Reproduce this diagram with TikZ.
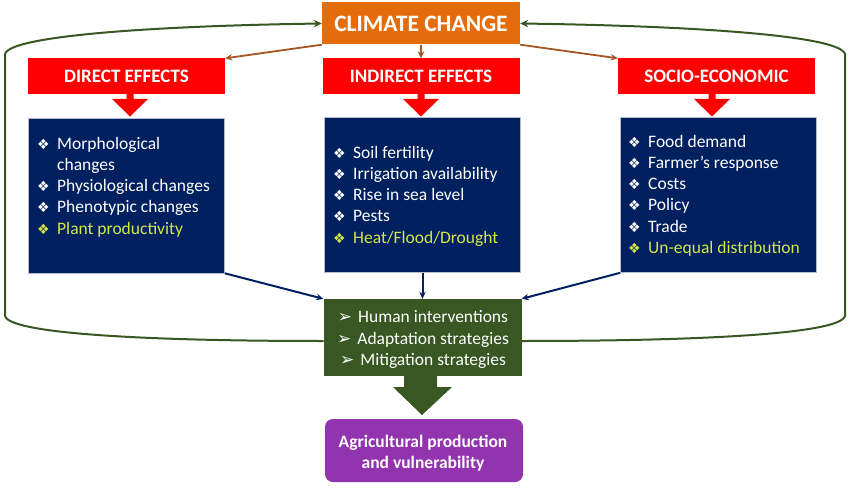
\documentclass[tikz,border=0pt]{standalone}
\usepackage{fontspec}
\setmainfont{Carlito}
\newfontfamily\symf{DejaVu Sans}
\usetikzlibrary{arrows.meta}
\definecolor{orangeC}{RGB}{228,108,10}
\definecolor{redC}{RGB}{255,0,0}
\definecolor{navyC}{RGB}{0,32,96}
\definecolor{greenC}{RGB}{56,87,35}
\definecolor{purpleC}{RGB}{146,52,174}
\definecolor{yellowC}{RGB}{214,232,70}
\definecolor{brownC}{RGB}{165,85,35}
\newcommand{\bul}[1]{\makebox[20pt][l]{{\symf\fontsize{14}{14}\selectfont ❖}}#1}
\newcommand{\ybul}[1]{\textcolor{yellowC}{\bul{#1}}}
\newcommand{\arb}[1]{{\symf\fontsize{17}{17}\selectfont ➢}\hspace{6pt}#1}
\begin{document}
\begin{tikzpicture}[x=1pt,y=-1pt,
  header/.style={fill=redC,draw=none,minimum width=197pt,minimum height=36pt,inner sep=0,
     text=white,font=\fontsize{19}{21}\selectfont\bfseries},
  bluebox/.style={fill=navyC,draw=white!70!navyC,line width=0.6pt,minimum width=196pt,minimum height=155pt,inner sep=0},
  listtext/.style={anchor=north west,inner sep=0,align=left,text=white,font=\fontsize{17.5}{21.2}\selectfont},
  feed/.style={draw=navyC,line width=2pt,-{Stealth[length=7pt,width=6.5pt]}},
  brownarr/.style={draw=brownC,line width=1.8pt,-{Stealth[length=7pt,width=6.5pt]}},
  loop/.style={draw=greenC,line width=2pt,-{Stealth[length=8pt,width=7.5pt]}}]
\useasboundingbox (0,0) rectangle (850,489);

% climate change
\node[fill=orangeC,minimum width=198pt,minimum height=42pt,inner sep=0,text=white,
  font=\fontsize{23.5}{26}\selectfont\bfseries] (cc) at (421,23.5) {CLIMATE CHANGE};

% headers
\node[header] (de) at (126.5,76.5) {DIRECT EFFECTS};
\node[header] (ie) at (421,76.5) {INDIRECT EFFECTS};
\node[header] (se) at (716.5,76.5) {SOCIO-ECONOMIC};

% red block arrows
\foreach \cx in {130,421,712}{
  \fill[redC] (\cx-3.5,94) -- (\cx+3.5,94) -- (\cx+3.5,99) -- (\cx+18,99) -- (\cx,116.5)
     -- (\cx-18,99) -- (\cx-3.5,99) -- cycle;
}

% blue boxes
\node[bluebox] (b1) at (126.5,195.5) {};
\node[bluebox] (b2) at (422.5,195) {};
\node[bluebox] (b3) at (718.5,195) {};

\node[listtext] (t1) at (37,137) {\bul{Morphological}\\\hspace*{20pt}changes\\\bul{Physiological changes}\\\bul{Phenotypic changes}\\\ybul{Plant productivity}};
\node[listtext] (t2) at (333,146) {\bul{Soil fertility}\\\bul{Irrigation availability}\\\bul{Rise in sea level}\\\bul{Pests}\\\ybul{Heat/Flood/Drought}};
\node[listtext] (t3) at (628,135) {\bul{Food demand}\\\bul{Farmer’s response}\\\bul{Costs}\\\bul{Policy}\\\bul{Trade}\\\ybul{Un-equal distribution}};

% green box
\node[fill=greenC,minimum width=198pt,minimum height=77pt,inner sep=0] (gb) at (422.5,337.5) {};
\node[inner sep=0,align=center,text=white,font=\fontsize{17.5}{21.5}\selectfont] (gt) at (423,339.5)
  {\arb{Human interventions}\\\arb{Adaptation strategies}\\\arb{Mitigation strategies}};

% green block arrow
\fill[greenC] (404,375) -- (437,375) -- (437,387) -- (452,387) -- (422,415) -- (393,387) -- (404,387) -- cycle;

% purple box
\node[fill=purpleC,rounded corners=8pt,minimum width=198pt,minimum height=63pt,inner sep=0] (pb) at (424,450.5) {};
\node[inner sep=0,text=white,align=center,font=\fontsize{17.5}{21}\selectfont\bfseries] (pt) at (423,453)
  {Agricultural production\\and vulnerability};

% brown arrows
\draw[brownarr] (cc.south west) -- (de.north east);
\draw[brownarr] (cc.south) -- (ie.north);
\draw[brownarr] (cc.south east) -- (se.north west);

% navy arrows
\draw[feed] (b1.south east) -- (gb.north west);
\draw[feed] (b2.south) -- (gb.north);
\draw[feed] (b3.south west) -- (gb.north east);

% loops
\coordinate (lb) at (323.5,341);
\coordinate (rb) at (521.5,341);
\draw[loop] (lb) .. controls (150,341) and (10,334) .. (5,316) -- (5,54)
   .. controls (10,36) and (150,26) .. (cc.west);
\draw[loop] (rb) .. controls (700,341) and (840,334) .. (845,316) -- (845,54)
   .. controls (840,36) and (700,26) .. (cc.east);
\end{tikzpicture}
\end{document}
